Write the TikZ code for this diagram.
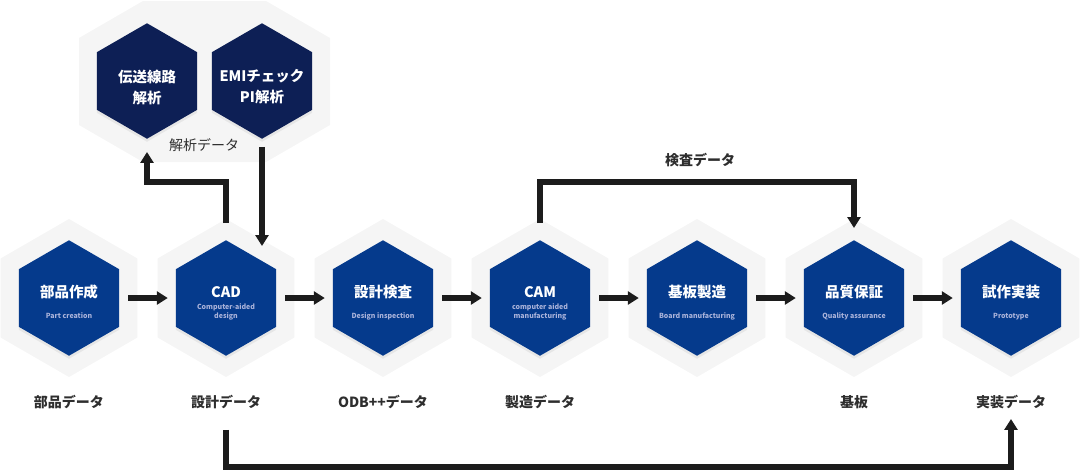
\documentclass[tikz,border=0pt]{standalone}
\usepackage{fontspec}
\setmainfont{Noto Sans CJK JP}
\usepackage{xcolor}
\usepackage{tikz}
\usetikzlibrary{positioning,arrows.meta,shapes.geometric,shadows}
\definecolor{hexblue}{HTML}{053A8C}
\definecolor{hexnavy}{HTML}{0D1F55}
\definecolor{hexgray}{HTML}{F5F5F5}
\definecolor{subink}{HTML}{A9B2DA}
\definecolor{flowink}{HTML}{1C1C1C}
\definecolor{labink}{HTML}{2E2E2E}

\begin{document}
\begin{tikzpicture}[x=1pt, y=-1pt,
    halo/.style={regular polygon, regular polygon sides=6, shape border rotate=30,
                 minimum size=158pt, inner sep=0pt, fill=hexgray},
    core/.style={regular polygon, regular polygon sides=6, shape border rotate=30,
                 minimum size=115.5pt, inner sep=0pt, fill=hexblue,
                 drop shadow={opacity=0.12, shadow xshift=0pt, shadow yshift=-3pt}},
    ttl/.style={font=\bfseries\fontsize{14.5}{21}\selectfont, text=white, align=center},
    sub/.style={font=\bfseries\fontsize{7}{9.5}\selectfont, text=subink, align=center},
    datalab/.style={font=\bfseries\fontsize{14}{17}\selectfont, text=labink},
    flow/.style={draw=flowink, line width=6.5pt, -{Triangle[width=13pt,length=11pt]}}]
  \useasboundingbox (0,0) rectangle (1080,471);
  \clip (0,0) rectangle (1080,471);

  % analysis group on top
  \fill[hexgray] (79,38) -- (79,125) -- (143,162) -- (266,162) -- (330,125)
        -- (330,38) -- (266,1) -- (143,1) -- cycle;
  \node[core, fill=hexnavy] (tline) at (147,81) {};
  \node[core, fill=hexnavy] (emi) at (262,81) {};
  \node[ttl] (tline-t) at (147,87) {伝送線路\\解析};
  \node[ttl] (emi-t) at (262,87) {EMIチェック\\PI解析};
  \node[datalab, font=\fontsize{14}{17}\selectfont] (ana-lab) at (204,145) {解析データ};

  % process chain
  \foreach \n/\x in {part/69, cad/226, insp/383, cam/540, board/697, qa/854, proto/1011}
    \node[halo] (\n-h) at (\x,298) {};
  \foreach \n/\x/\t/\s in {part/69/部品作成/Part creation,
                           cad/226/CAD/{Computer-aided\\design},
                           insp/383/設計検査/Design inspection,
                           cam/540/CAM/{computer aided\\manufacturing},
                           board/697/基板製造/Board manufacturing,
                           qa/854/品質保証/Quality assurance,
                           proto/1011/試作実装/Prototype} {
    \node[core] (\n) at (\x,298) {};
    \node[ttl, anchor=base] (\n-t) at (\x,297.5) {\t};
    \node[sub, anchor=base] (\n-s) at (\x,318.5) {\s};
  }
  \foreach \n/\v in {part/部品データ, cad/設計データ, insp/ODB++データ,
                     cam/製造データ, qa/基板, proto/実装データ}
    \node[datalab] (\n-lab) at ([yshift=-104pt]\n.center) {\v};

  \foreach \a/\b in {part/cad, cad/insp, insp/cam, cam/board, board/qa, qa/proto}
    \draw[flow, shorten <=9pt, shorten >=8pt] (\a) -- (\b);

  % feedback and data paths
  \coordinate (emi-in) at ([yshift=-6pt]cad.north);
  \draw[flow] ([yshift=17pt]cad.north) -- ++(0,-41) -| ([yshift=-13pt]tline.south);
  \draw[flow] ([yshift=-8pt]emi.south) -- (emi.south |- emi-in);
  \draw[flow] ([yshift=17pt]cam.north) -- ++(0,-41) -| ([yshift=12pt]qa.north);
  \node[datalab] (insp-lab2) at (700,160) {検査データ};
  \draw[flow] ([yshift=-74pt]cad.south) -- ++(0,37) -| ([yshift=-63pt]proto.south);
\end{tikzpicture}
\end{document}
